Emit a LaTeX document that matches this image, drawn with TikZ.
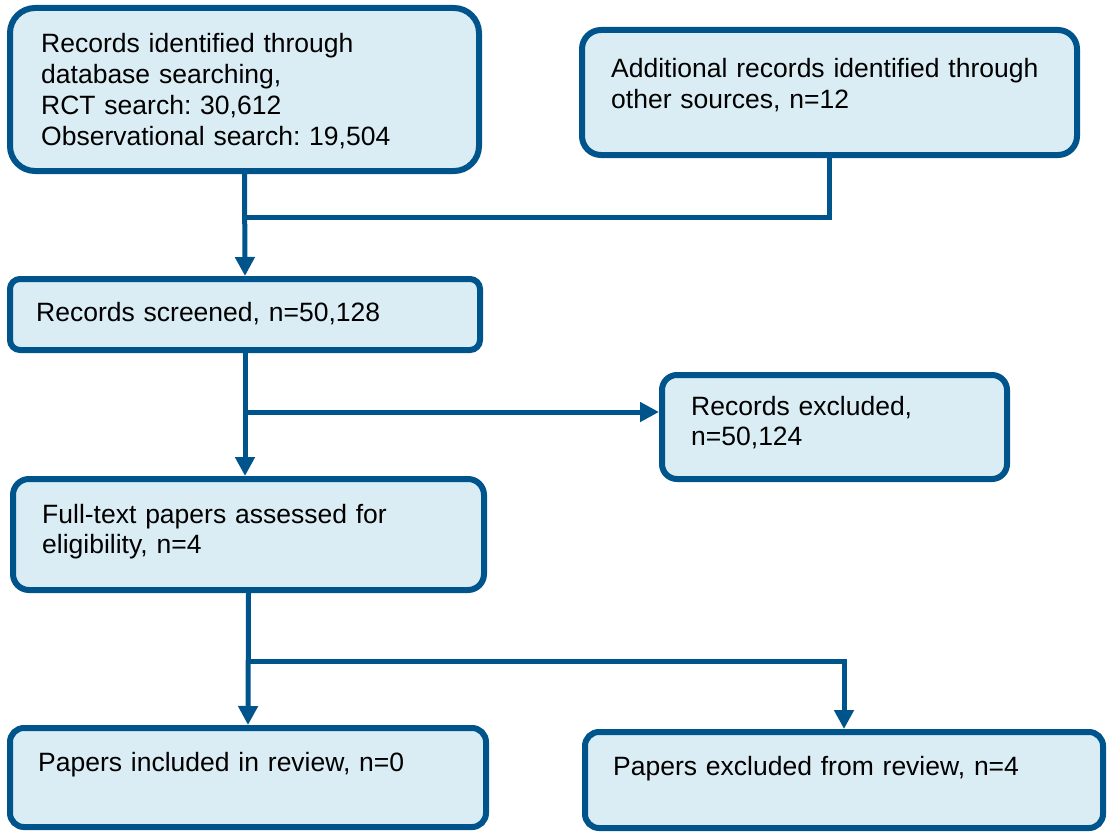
\documentclass[tikz,border=0pt]{standalone}
\usepackage{fontspec}
\setmainfont{Liberation Sans}
\usepackage{xcolor}
\usetikzlibrary{arrows.meta,positioning}
\definecolor{prismablue}{RGB}{0,84,140}
\definecolor{prismafill}{RGB}{219,237,244}
\frenchspacing

\begin{document}
\begin{tikzpicture}[x=1pt,y=-1pt,
  box/.style={draw=prismablue,fill=prismafill,line width=6pt,inner sep=0pt,anchor=north west},
  txt/.style={anchor=base west,inner sep=0pt,align=left,text width=#1,font=\fontsize{26.5}{30.7}\selectfont},
  txt/.default=440pt,
  link/.style={draw=prismablue,line width=5pt},
  arr/.style={link,-{Triangle[length=19pt,width=19pt]}}]
\useasboundingbox (0,0) rectangle (1107,832);
% Boxes
\node[box,rounded corners=25pt,minimum width=469pt,minimum height=163pt] (ident) at (7,5) {};
\node[box,rounded corners=19pt,minimum width=495pt,minimum height=125pt] (other) at (579,27) {};
\node[box,rounded corners=10pt,minimum width=470pt,minimum height=71pt] (screen) at (7,276) {};
\node[box,rounded corners=15pt,minimum width=345pt,minimum height=104pt] (excl) at (659,372) {};
\node[box,rounded corners=16pt,minimum width=471pt,minimum height=111pt] (full) at (10,476) {};
\node[box,rounded corners=14pt,minimum width=476pt,minimum height=99pt] (incl) at (7,725) {};
\node[box,rounded corners=14pt,minimum width=518pt,minimum height=96pt] (rexcl) at (582,729) {};
% Texts
\node[txt] (identtxt) at (41,53) {Records identified through\\database searching,\\RCT search: 30,612\\Observational search: 19,504};
\node[txt] (othertxt) at (611,78) {Additional records identified through\\other sources, n=12};
\node[txt] (screentxt) at (36,321) {Records screened, n=50,128};
\node[txt=300pt] (excltxt) at (691,415) {Records excluded,\\n=50,124};
\node[txt] (fulltxt) at (42,523) {Full-text papers assessed for\\eligibility, n=4};
\node[txt] (incltxt) at (38,771) {Papers included in review, n=0};
\node[txt=480pt] (rexcltxt) at (613,775) {Papers excluded from review, n=4};
% Connectors
\coordinate (jn1) at (ident.south |- 0,217);
\coordinate (jn2) at (screen.south |- 0,412);
\coordinate (jn3) at (full.south |- 0,661);
\draw[arr] (ident.south) -- (screen.north);
\draw[link] (other.south) |- (jn1);
\draw[arr] (screen.south) -- (screen.south |- full.north);
\draw[arr] (jn2) -- (jn2 -| excl.west);
\draw[arr] (full.south) -- (incl.north);
\draw[arr] (jn3) -| (rexcl.north);
\end{tikzpicture}
\end{document}
